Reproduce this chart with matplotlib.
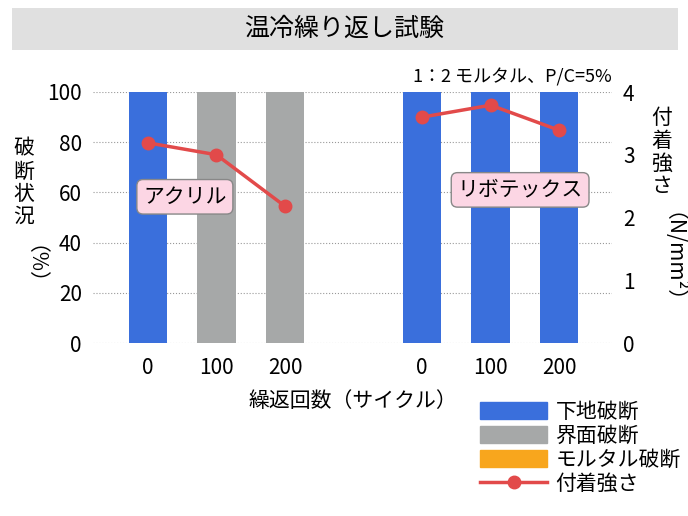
import matplotlib.pyplot as plt
from matplotlib.patches import Patch
from matplotlib.lines import Line2D

plt.rcParams['font.family'] = 'Noto Sans CJK JP'

cycles = ['0', '100', '200', '0', '100', '200']
positions = [0, 1, 2, 4, 5, 6]
substrate_break = [100, 0, 0, 100, 100, 100]
interface_break = [0, 100, 100, 0, 0, 0]
mortar_break = [0, 0, 0, 0, 0, 0]
acryl_strength = [3.19, 3.0, 2.18]
ribotex_strength = [3.6, 3.79, 3.39]

blue = '#3a6fdc'
gray = '#a6a8a8'
orange = '#f8a61d'
red = '#e24a4a'

fig = plt.figure(figsize=(6.88, 5.16), dpi=100)
ax = fig.add_axes([93 / 688, 1 - 343 / 516, 519 / 688, 251 / 516])

w = 0.56
ax.bar(positions, substrate_break, w, color=blue, zorder=2)
ax.bar(positions, interface_break, w, bottom=substrate_break, color=gray, zorder=2)
ax.set_xlim(-0.8, 6.77)
ax.set_ylim(0, 100)
ax.set_yticks([0, 20, 40, 60, 80, 100])
ax.set_xticks(positions)
ax.set_xticklabels(cycles)
ax.tick_params(length=0, labelsize=15, pad=8)
ax.tick_params(axis='x', pad=10)
ax.grid(axis='y', linestyle=':', color='#999999', zorder=0)
for s in ax.spines.values():
    s.set_visible(False)
ax.set_xlabel('繰返回数（サイクル）', fontsize=15, labelpad=8)

ax2 = ax.twinx()
ax2.plot(positions[:3], acryl_strength, color=red, lw=2.5, marker='o', ms=9, zorder=3)
ax2.plot(positions[3:], ribotex_strength, color=red, lw=2.5, marker='o', ms=9, zorder=3)
ax2.set_ylim(0, 4)
ax2.set_yticks([0, 1, 2, 3, 4])
ax2.tick_params(length=0, labelsize=15, pad=8)
for s in ax2.spines.values():
    s.set_visible(False)

box = dict(boxstyle='round,pad=0.3', fc='#fcd6e4', ec='#888888')
ax2.text(0.54, 2.33, 'アクリル', fontsize=15, ha='center', va='center', bbox=box, zorder=4)
ax2.text(5.43, 2.44, 'リボテックス', fontsize=15, ha='center', va='center', bbox=box, zorder=4)

fig.patches.append(plt.Rectangle((12 / 688, 1 - 50 / 516), 666 / 688, 42 / 516,
                                 transform=fig.transFigure, fc='#e0e0e0', ec='none'))
fig.text(344 / 688, 1 - 29 / 516, '温冷繰り返し試験', fontsize=18, ha='center', va='center')
fig.text(612 / 688, 1 - 77 / 516, '1：2 モルタル、P/C=5%', fontsize=13, ha='right', va='center')

fig.text(24 / 688, 1 - 183 / 516, '\n'.join('破断状況'), fontsize=15, ha='center', va='center',
         linespacing=1.05)
fig.text(24 / 688, 1 - 275 / 516, '（%）', fontsize=15, ha='center', va='center', rotation=-90)
fig.text(662 / 688, 1 - 152 / 516, '\n'.join('付着強さ'), fontsize=15, ha='center', va='center',
         linespacing=1.05)
fig.text(662 / 688, 1 - 268 / 516, '（N/mm²）', fontsize=15, ha='center', va='center', rotation=-90)

handles = [Patch(color=blue, label='下地破断'), Patch(color=gray, label='界面破断'),
           Patch(color=orange, label='モルタル破断'),
           Line2D([0], [0], color=red, lw=2.5, marker='o', ms=9, label='付着強さ')]
fig.legend(handles=handles, loc='upper left', bbox_to_anchor=(470 / 688, 1 - 390 / 516),
           frameon=False, fontsize=15, handlelength=3.2, handleheight=0.9, labelspacing=0.1,
           borderpad=0, handletextpad=0.4)

fig.savefig('out.png', dpi=100)
